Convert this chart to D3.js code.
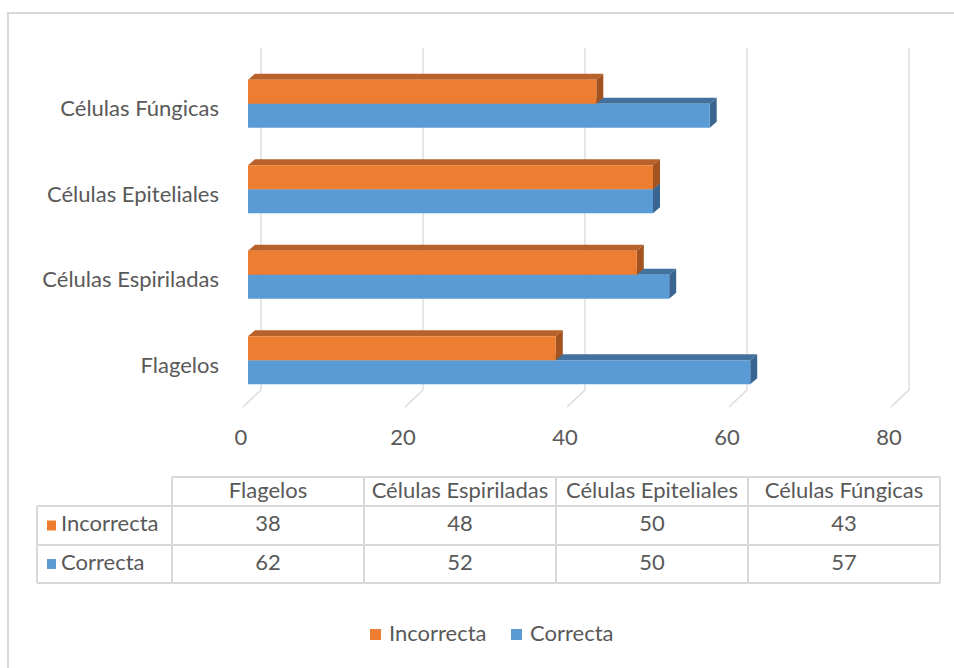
<!DOCTYPE html>
<html><head><meta charset="utf-8">
<script src="https://cdn.jsdelivr.net/npm/d3@7/dist/d3.min.js"></script>
<style>
body{margin:0;background:#fff}
svg text{font-family:"Lato",sans-serif;fill:#595959}
</style></head><body>
<svg id="chart" width="954" height="668"></svg>
<script>
const categories = ["Flagelos", "Células Espiriladas", "Células Epiteliales", "Células Fúngicas"];
const seriesNames = ["Incorrecta", "Correcta"];
const incorrecta = [38, 48, 50, 43];
const correcta = [62, 52, 50, 57];
const xTicks = [0, 20, 40, 60, 80];
const seriesColors = {
  Incorrecta: {front: "#ED7D31", top: "#B8612A", side: "#A3531F"},
  Correcta:   {front: "#5B9BD5", top: "#41719C", side: "#3A6590"}
};

const svg = d3.select("#chart");
const FS = 22;

// outer frame
svg.append("path").attr("d", "M8,700 L8,13 L970,13")
  .attr("fill", "none").attr("stroke", "#D9D9D9").attr("stroke-width", 2);

// scales (front face of bars)
const x = d3.scaleLinear().domain([0, 80]).range([248, 896]);
const y = d3.scaleBand().domain(categories.slice().reverse()).range([61, 403])
  .paddingInner(0.4386).paddingOuter(0.2193);
const ys = d3.scaleBand().domain(seriesNames).range([0, y.bandwidth()]);
const depth = {dx: 7, dy: -6};
const wall = {dx: 13, top: 48, bottom: 390};
const floorFront = {dx: -5, y: 407};

// gridlines: back wall + floor diagonals
const grid = svg.append("g");
xTicks.forEach(v => {
  const xb = x(v) + wall.dx;
  grid.append("path")
    .attr("d", `M${xb},${wall.top} L${xb},${wall.bottom} L${x(v) + floorFront.dx},${floorFront.y}`)
    .attr("fill", "none").attr("stroke", "#D9D9D9").attr("stroke-width", 1.3);
});

// axis tick labels
svg.append("g").selectAll("text").data(xTicks).join("text")
  .attr("x", d => x(d) - 7).attr("y", 439)
  .attr("text-anchor", "middle").attr("dominant-baseline", "middle")
  .attr("font-size", FS).text(d => d);

// category labels
svg.append("g").selectAll("text").data(categories).join("text")
  .attr("x", 219).attr("y", d => y(d) + y.bandwidth() / 2 + 7)
  .attr("text-anchor", "end").attr("dominant-baseline", "middle")
  .attr("font-size", FS).text(d => d);

// bars
const values = {Incorrecta: incorrecta, Correcta: correcta};
const bars = svg.append("g");
categories.forEach((cat, i) => {
  ["Correcta", "Incorrecta"].forEach(s => {
    const v = values[s][i];
    const x0 = x(0), x1 = x(v);
    const y0 = y(cat) + ys(s), h = ys.bandwidth();
    const c = seriesColors[s];
    const g = bars.append("g");
    g.append("path").attr("d",
      `M${x0},${y0} L${x0 + depth.dx},${y0 + depth.dy} L${x1 + depth.dx},${y0 + depth.dy} L${x1},${y0} Z`)
      .attr("fill", c.top);
    g.append("path").attr("d",
      `M${x1},${y0} L${x1 + depth.dx},${y0 + depth.dy} L${x1 + depth.dx},${y0 + h + depth.dy} L${x1},${y0 + h} Z`)
      .attr("fill", c.side);
    g.append("rect").attr("x", x0).attr("y", y0).attr("width", x1 - x0).attr("height", h)
      .attr("fill", c.front);
  });
});

// data table
const col = d3.scaleBand().domain(categories).range([172, 940]);
const rowTops = [477, 506, 545, 583];
const tbl = svg.append("g");
const lineC = "#D9D9D9";
function line(x1, y1, x2, y2) {
  tbl.append("line").attr("x1", x1).attr("y1", y1).attr("x2", x2).attr("y2", y2)
    .attr("stroke", lineC).attr("stroke-width", 2);
}
line(172, rowTops[0], 940, rowTops[0]);
line(37, rowTops[1], 940, rowTops[1]);
line(37, rowTops[2], 940, rowTops[2]);
line(37, rowTops[3], 940, rowTops[3]);
line(37, rowTops[1], 37, rowTops[3]);
categories.forEach(c => line(col(c), rowTops[0], col(c), rowTops[3]));
line(940, rowTops[0], 940, rowTops[3]);

tbl.selectAll("text.h").data(categories).join("text").attr("class", "h")
  .attr("x", d => col(d) + col.bandwidth() / 2).attr("y", (rowTops[0] + rowTops[1]) / 2 + 1)
  .attr("text-anchor", "middle").attr("dominant-baseline", "middle")
  .attr("font-size", FS).text(d => d);

seriesNames.forEach((s, r) => {
  const yc = (rowTops[r + 1] + rowTops[r + 2]) / 2;
  tbl.append("rect").attr("x", 47).attr("y", yc - 5).attr("width", 9).attr("height", 10)
    .attr("fill", seriesColors[s].front);
  tbl.append("text").attr("x", 61).attr("y", yc)
    .attr("dominant-baseline", "middle").attr("font-size", FS).text(s);
  tbl.selectAll("text.v" + r).data(values[s]).join("text").attr("class", "v" + r)
    .attr("x", (d, i) => col(categories[i]) + col.bandwidth() / 2).attr("y", yc)
    .attr("text-anchor", "middle").attr("dominant-baseline", "middle")
    .attr("font-size", FS).text(d => d);
});

// legend
const legend = svg.append("g");
const legendX = [370, 511];
seriesNames.forEach((s, i) => {
  legend.append("rect").attr("x", legendX[i]).attr("y", 629).attr("width", 11).attr("height", 11)
    .attr("fill", seriesColors[s].front);
  legend.append("text").attr("x", legendX[i] + 19).attr("y", 635)
    .attr("dominant-baseline", "middle").attr("font-size", FS).text(s);
});
</script>
</body></html>
